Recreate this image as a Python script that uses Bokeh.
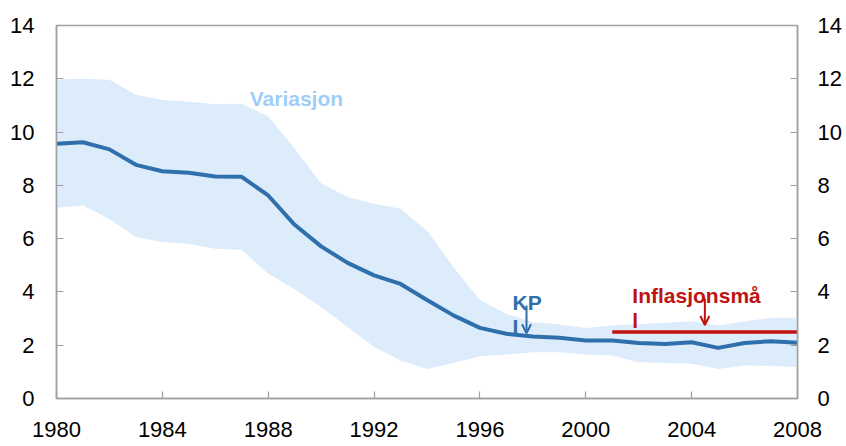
from bokeh.plotting import figure
from bokeh.models import Range1d, LinearAxis, FixedTicker, Arrow, OpenHead
from bokeh.core.properties import value
from bokeh.embed import file_html
from bokeh.resources import INLINE

# ---- data ----
years = list(range(1980, 2009))
kpi = [9.56, 9.62, 9.35, 8.77, 8.53, 8.47, 8.33, 8.32, 7.62, 6.52,
       5.71, 5.09, 4.62, 4.30, 3.70, 3.12, 2.65, 2.43, 2.33, 2.28,
       2.18, 2.18, 2.08, 2.05, 2.11, 1.90, 2.08, 2.15, 2.09]
var_upper = [11.97, 12.00, 11.96, 11.40, 11.21, 11.14, 11.04, 11.06, 10.59, 9.37,
             8.08, 7.56, 7.31, 7.12, 6.31, 4.93, 3.70, 3.18, 2.86, 2.78,
             2.65, 2.74, 2.80, 2.84, 2.90, 2.74, 2.90, 3.03, 3.03]
var_lower = [7.16, 7.24, 6.74, 6.06, 5.87, 5.81, 5.62, 5.58, 4.68, 4.10,
             3.43, 2.68, 1.93, 1.43, 1.11, 1.33, 1.58, 1.65, 1.74, 1.74,
             1.65, 1.61, 1.36, 1.33, 1.30, 1.11, 1.24, 1.22, 1.18]
target_years = [2001, 2008]
target_values = [2.5, 2.5]
x_ticks = [1980, 1984, 1988, 1992, 1996, 2000, 2004, 2008]
y_ticks = [0, 2, 4, 6, 8, 10, 12, 14]
label_variasjon = ["Variasjon"]
label_kpi = ["KP", "I"]
label_target = ["Inflasjonsmå", "l"]

FONT = "Liberation Sans"
BAND = "#ddecfb"
BLUE = "#2f6fab"
RED = "#c0120f"
AXIS = "#a0a0a0"

p = figure(width=846, height=446,
           x_range=Range1d(1980, 2008), y_range=Range1d(0, 14),
           output_backend="svg", toolbar_location=None,
           min_border_left=56, min_border_right=49,
           min_border_top=25, min_border_bottom=48)

p.varea(x=years, y1=var_lower, y2=var_upper, fill_color=BAND)
p.line(years, kpi, line_color=BLUE, line_width=4)
p.line(target_years, target_values, line_color=RED, line_width=3.5)

# annotations
p.text(x=[1987.3], y=[11.25], text=label_variasjon, text_color="#9fcdf8",
       text_font=value(FONT), text_font_style="bold", text_font_size="21px",
       text_baseline="alphabetic")
p.text(x=[1997.23, 1997.23], y=[3.61, 2.70], text=label_kpi, text_color=BLUE,
       text_font=value(FONT), text_font_style="bold", text_font_size="21px",
       text_baseline="alphabetic")
p.text(x=[2001.76, 2001.76], y=[3.87, 2.93], text=label_target, text_color=RED,
       text_font=value(FONT), text_font_style="bold", text_font_size="21px",
       text_baseline="alphabetic")
p.add_layout(Arrow(end=OpenHead(size=9, line_color=BLUE, line_width=2),
                   x_start=1997.76, y_start=3.49, x_end=1997.76, y_end=2.45,
                   line_color=BLUE, line_width=2))
p.add_layout(Arrow(end=OpenHead(size=9, line_color=RED, line_width=2),
                   x_start=2004.5, y_start=3.75, x_end=2004.5, y_end=2.76,
                   line_color=RED, line_width=2))

right_axis = LinearAxis()
p.add_layout(right_axis, "right")

p.xaxis.ticker = FixedTicker(ticks=x_ticks)
p.xaxis.major_label_overrides = {t: str(t) for t in x_ticks}
for ax in p.yaxis:
    ax.ticker = FixedTicker(ticks=y_ticks)

for ax in list(p.xaxis) + list(p.yaxis):
    ax.axis_line_color = AXIS
    ax.axis_line_width = 1.5
    ax.major_tick_line_color = AXIS
    ax.major_tick_line_width = 1.2
    ax.major_tick_in = 7
    ax.major_tick_out = 0
    ax.minor_tick_line_color = None
    ax.major_label_text_font = FONT
    ax.major_label_text_font_size = "22px"
    ax.major_label_text_color = "#000000"

p.yaxis[0].major_label_standoff = 22
right_axis.major_label_standoff = 20
p.xaxis.major_label_standoff = 23

p.xgrid.visible = False
p.ygrid.visible = False
p.outline_line_color = AXIS
p.outline_line_width = 1.5
p.background_fill_color = "white"
p.border_fill_color = "white"

open("out.html", "w").write(file_html(p, INLINE))
